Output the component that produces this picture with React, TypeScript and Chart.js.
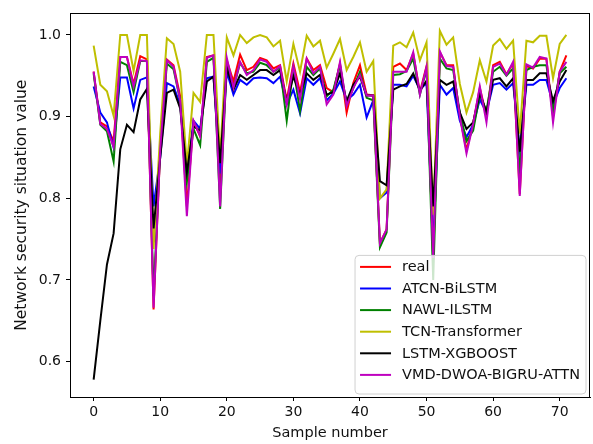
import React, { useEffect, useRef } from "react";
import { Chart, registerables } from "chart.js";
Chart.register(...registerables);

const seriesLabels = ["real", "ATCN-BiLSTM", "NAWL-ILSTM", "TCN-Transformer", "LSTM-XGBOOST", "VMD-DWOA-BIGRU-ATTN"];
const seriesColors = ["#ff0000", "#0000ff", "#008000", "#bfbf00", "#000000", "#bf00bf"];

const real = [
  0.955, 0.893, 0.888, 0.870, 0.973, 0.973, 0.940, 0.974, 0.970, 0.664,
  0.860, 0.970, 0.963, 0.925, 0.790, 0.894, 0.876, 0.973, 0.975, 0.810,
  0.969, 0.943, 0.976, 0.957, 0.961, 0.972, 0.969, 0.959, 0.963, 0.920,
  0.965, 0.930, 0.971, 0.957, 0.963, 0.935, 0.930, 0.965, 0.905, 0.941,
  0.963, 0.927, 0.926, 0.745, 0.762, 0.961, 0.965, 0.957, 0.977, 0.930,
  0.962, 0.725, 0.979, 0.963, 0.963, 0.900, 0.859, 0.892, 0.935, 0.901,
  0.963, 0.967, 0.952, 0.965, 0.805, 0.962, 0.959, 0.971, 0.971, 0.900,
  0.955, 0.975,
];
const atcnBiLSTM = [
  0.937, 0.905, 0.893, 0.862, 0.948, 0.948, 0.910, 0.945, 0.948, 0.790,
  0.850, 0.941, 0.937, 0.915, 0.829, 0.895, 0.885, 0.947, 0.949, 0.830,
  0.955, 0.927, 0.945, 0.939, 0.947, 0.948, 0.947, 0.941, 0.949, 0.915,
  0.933, 0.904, 0.947, 0.939, 0.947, 0.920, 0.928, 0.943, 0.920, 0.927,
  0.939, 0.899, 0.920, 0.800, 0.807, 0.939, 0.939, 0.937, 0.950, 0.933,
  0.941, 0.740, 0.939, 0.927, 0.935, 0.895, 0.875, 0.890, 0.921, 0.905,
  0.939, 0.941, 0.933, 0.941, 0.860, 0.939, 0.939, 0.945, 0.945, 0.915,
  0.935, 0.947,
];
const nawlILSTM = [
  0.953, 0.890, 0.882, 0.845, 0.967, 0.963, 0.930, 0.968, 0.968, 0.680,
  0.860, 0.965, 0.958, 0.920, 0.820, 0.885, 0.865, 0.967, 0.972, 0.787,
  0.966, 0.935, 0.966, 0.953, 0.955, 0.966, 0.963, 0.955, 0.960, 0.895,
  0.959, 0.907, 0.961, 0.951, 0.959, 0.925, 0.933, 0.963, 0.915, 0.935,
  0.955, 0.923, 0.920, 0.740, 0.758, 0.951, 0.952, 0.956, 0.971, 0.927,
  0.958, 0.700, 0.971, 0.959, 0.957, 0.905, 0.870, 0.883, 0.927, 0.907,
  0.955, 0.961, 0.950, 0.959, 0.830, 0.957, 0.961, 0.963, 0.963, 0.907,
  0.953, 0.961,
];
const tcnTransformer = [
  0.987, 0.939, 0.931, 0.901, 1.000, 1.000, 0.956, 1.000, 1.000, 0.738,
  0.880, 0.996, 0.989, 0.955, 0.840, 0.929, 0.918, 1.000, 1.000, 0.850,
  0.997, 0.975, 1.000, 0.990, 0.997, 1.000, 0.997, 0.986, 0.993, 0.943,
  0.989, 0.955, 0.999, 0.986, 0.993, 0.960, 0.977, 0.995, 0.957, 0.973,
  0.991, 0.955, 0.968, 0.800, 0.811, 0.987, 0.991, 0.985, 1.003, 0.969,
  0.991, 0.780, 1.005, 0.988, 0.997, 0.940, 0.905, 0.930, 0.969, 0.943,
  0.987, 0.995, 0.983, 0.993, 0.879, 0.993, 0.991, 0.999, 0.999, 0.947,
  0.989, 1.000,
];
const lstmXGBoost = [
  0.578, 0.650, 0.719, 0.757, 0.860, 0.890, 0.881, 0.921, 0.934, 0.763,
  0.850, 0.929, 0.933, 0.910, 0.832, 0.888, 0.883, 0.943, 0.949, 0.843,
  0.960, 0.933, 0.951, 0.945, 0.951, 0.957, 0.957, 0.951, 0.957, 0.918,
  0.949, 0.927, 0.953, 0.945, 0.951, 0.927, 0.930, 0.953, 0.919, 0.939,
  0.949, 0.926, 0.926, 0.821, 0.816, 0.933, 0.937, 0.940, 0.953, 0.932,
  0.944, 0.790, 0.945, 0.939, 0.943, 0.905, 0.885, 0.893, 0.929, 0.905,
  0.945, 0.947, 0.937, 0.947, 0.857, 0.945, 0.945, 0.953, 0.953, 0.919,
  0.943, 0.957,
];
const vmdDwoaBigruAttn = [
  0.955, 0.891, 0.885, 0.863, 0.973, 0.973, 0.937, 0.969, 0.968, 0.666,
  0.860, 0.969, 0.961, 0.920, 0.778, 0.895, 0.876, 0.972, 0.975, 0.790,
  0.972, 0.935, 0.967, 0.951, 0.957, 0.970, 0.967, 0.955, 0.962, 0.915,
  0.962, 0.921, 0.971, 0.953, 0.961, 0.915, 0.927, 0.967, 0.913, 0.935,
  0.951, 0.926, 0.926, 0.745, 0.762, 0.955, 0.955, 0.955, 0.979, 0.927,
  0.961, 0.727, 0.980, 0.962, 0.961, 0.900, 0.855, 0.891, 0.937, 0.893,
  0.961, 0.965, 0.951, 0.967, 0.803, 0.964, 0.960, 0.973, 0.971, 0.893,
  0.955, 0.967,
];

const xTicks = [0, 10, 20, 30, 40, 50, 60, 70];
const yTicks = [0.6, 0.7, 0.8, 0.9, 1.0];
const xTitle = "Sample number";
const yTitle = "Network security situation value";

const FONT = "'DejaVu Sans', sans-serif";
const TEXT = "#111111";

const framePlugin = {
  id: "frame",
  afterDatasetsDraw(chart: any) {
    const { ctx, chartArea } = chart;
    ctx.save();
    ctx.strokeStyle = "#000";
    ctx.lineWidth = 1;
    ctx.strokeRect(Math.round(chartArea.left) + 0.5, Math.round(chartArea.top) + 0.5,
      Math.round(chartArea.right - chartArea.left) - 1, Math.round(chartArea.bottom - chartArea.top));
    ctx.restore();
  },
};

const legendPlugin = {
  id: "innerLegend",
  afterDraw(chart: any) {
    const { ctx, chartArea } = chart;
    const ds = chart.data.datasets;
    ctx.save();
    ctx.font = `14.5px ${FONT}`;
    let maxW = 0;
    ds.forEach((d: any) => { maxW = Math.max(maxW, ctx.measureText(d.label).width); });
    const rowH = 21.6;
    const w = 5 + 31 + 11 + maxW + 6;
    const h = 8 + rowH * ds.length + 1;
    const right = chartArea.right - 4;
    const bottom = chartArea.bottom - 3;
    const x = right - w;
    const y = bottom - h;
    const r = 4;
    ctx.beginPath();
    ctx.moveTo(x + r, y);
    ctx.lineTo(x + w - r, y);
    ctx.quadraticCurveTo(x + w, y, x + w, y + r);
    ctx.lineTo(x + w, y + h - r);
    ctx.quadraticCurveTo(x + w, y + h, x + w - r, y + h);
    ctx.lineTo(x + r, y + h);
    ctx.quadraticCurveTo(x, y + h, x, y + h - r);
    ctx.lineTo(x, y + r);
    ctx.quadraticCurveTo(x, y, x + r, y);
    ctx.closePath();
    ctx.fillStyle = "rgba(255,255,255,0.8)";
    ctx.fill();
    ctx.strokeStyle = "#d0d0d0";
    ctx.lineWidth = 1;
    ctx.stroke();
    ds.forEach((d: any, i: number) => {
      const cy = y + 11.5 + i * rowH;
      ctx.strokeStyle = d.borderColor;
      ctx.lineWidth = 2;
      ctx.beginPath();
      ctx.moveTo(x + 5, cy);
      ctx.lineTo(x + 36, cy);
      ctx.stroke();
      ctx.fillStyle = TEXT;
      ctx.textBaseline = "middle";
      ctx.textAlign = "left";
      ctx.fillText(d.label, x + 47, cy + 0.5);
    });
    ctx.restore();
  },
};

export default function App() {
  const ref = useRef<HTMLCanvasElement | null>(null);
  useEffect(() => {
    document.body.style.margin = "0";
    const canvas = ref.current;
    if (!canvas) return;
    const all = [real, atcnBiLSTM, nawlILSTM, tcnTransformer, lstmXGBoost, vmdDwoaBigruAttn];
    const chart = new Chart(canvas, {
      type: "line",
      data: {
        datasets: all.map((vals, k) => ({
          label: seriesLabels[k],
          data: vals.map((v, i) => ({ x: i, y: v })),
          borderColor: seriesColors[k],
          backgroundColor: seriesColors[k],
          borderWidth: 2,
          pointRadius: 0,
          tension: 0,
          fill: false,
          order: all.length - k,
        })),
      },
      options: {
        animation: false,
        responsive: false,
        devicePixelRatio: 1,
        layout: { padding: { top: 7, right: 3, left: 0, bottom: 0 } },
        plugins: { legend: { display: false }, tooltip: { enabled: false } },
        scales: {
          x: {
            type: "linear",
            min: -3.55,
            max: 74.55,
            afterBuildTicks: (s: any) => { s.ticks = xTicks.map((v) => ({ value: v })); },
            afterFit: (s: any) => { s.height = 47; },
            grid: { display: true, drawOnChartArea: false, drawTicks: true, tickLength: 4, color: "#000" },
            border: { display: true, color: "#000", width: 1 },
            ticks: { color: TEXT, font: { family: FONT, size: 14 }, padding: 3, maxRotation: 0, autoSkip: false },
            title: { display: true, text: xTitle, color: TEXT, font: { family: FONT, size: 14.5 }, padding: { top: 0, bottom: 2 } },
          },
          y: {
            type: "linear",
            min: 0.5567,
            max: 1.0264,
            afterBuildTicks: (s: any) => { s.ticks = yTicks.map((v) => ({ value: v })); },
            afterFit: (s: any) => { s.width = 70; },
            grid: { display: true, drawOnChartArea: false, drawTicks: true, tickLength: 4, color: "#000" },
            border: { display: true, color: "#000", width: 1 },
            ticks: { color: TEXT, font: { family: FONT, size: 14 }, padding: 5, callback: (v: any) => Number(v).toFixed(1) },
            title: { display: true, text: yTitle, color: TEXT, font: { family: FONT, size: 15.5 }, padding: { top: 12.5, bottom: 0 } },
          },
        },
      },
      plugins: [framePlugin, legendPlugin],
    });
    return () => chart.destroy();
  }, []);
  return <canvas ref={ref} width={593} height={444} style={{ display: "block", width: 593, height: 444 }} />;
}
